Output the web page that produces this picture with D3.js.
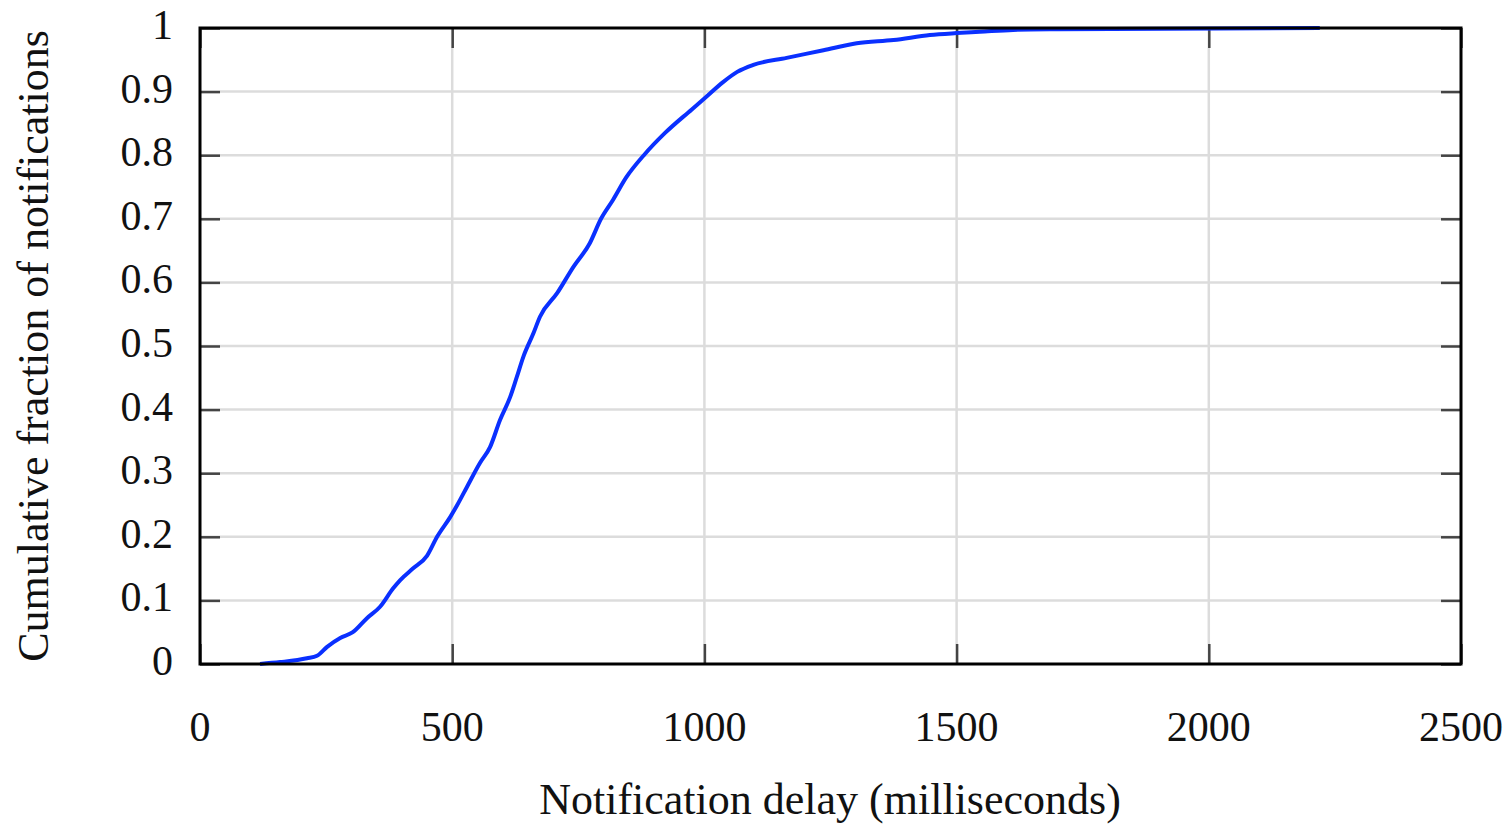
<!DOCTYPE html>
<html>
<head>
<meta charset="utf-8">
<script src="https://cdn.jsdelivr.net/npm/d3@7"></script>
<style>
  body { margin: 0; background: #fff; }
  text { font-family: "Liberation Serif", "DejaVu Serif", serif; fill: #111; }
</style>
</head>
<body>
<div id="chart"></div>
<script>
// CDF of notification delay
const delays = [119, 159, 212, 232, 252, 278, 303, 331, 357, 383, 397, 422, 450, 470, 496, 510, 529, 555, 575, 595, 615, 628, 641, 661, 674, 708, 740, 773, 795, 819, 845, 880, 922, 975, 1001, 1037, 1065, 1097, 1163, 1236, 1302, 1375, 1447, 1500, 1546, 1612, 1700, 2220];
const fractions = [0, 0.003, 0.009, 0.013, 0.027, 0.041, 0.05, 0.072, 0.09, 0.119, 0.132, 0.15, 0.17, 0.2, 0.231, 0.25, 0.278, 0.316, 0.341, 0.384, 0.42, 0.451, 0.483, 0.52, 0.546, 0.583, 0.624, 0.662, 0.7, 0.73, 0.765, 0.8, 0.835, 0.872, 0.89, 0.915, 0.931, 0.942, 0.953, 0.965, 0.976, 0.981, 0.989, 0.992, 0.994, 0.997, 0.998, 1.0];

const xTicks = [0, 500, 1000, 1500, 2000, 2500];
const yTicks = [0, 0.1, 0.2, 0.3, 0.4, 0.5, 0.6, 0.7, 0.8, 0.9, 1];

const width = 1511;
const height = 827;
const margin = { top: 28, right: 50, bottom: 163, left: 200 };

const points = delays.map((d, i) => ({ delay: d, frac: fractions[i] }));

const svg = d3.select('#chart')
  .append('svg')
  .attr('width', width)
  .attr('height', height);

const x = d3.scaleLinear()
  .domain([0, 2500])
  .range([margin.left, width - margin.right]);

const y = d3.scaleLinear()
  .domain([0, 1])
  .range([height - margin.bottom, margin.top]);

const plotW = x(2500) - x(0);
const plotH = y(0) - y(1);

// gridlines
svg.append('g')
  .selectAll('line')
  .data(yTicks.slice(1, -1))
  .join('line')
  .attr('x1', x(0)).attr('x2', x(2500))
  .attr('y1', d => y(d)).attr('y2', d => y(d))
  .attr('stroke', '#dcdcdc')
  .attr('stroke-width', 2.5);

svg.append('g')
  .selectAll('line')
  .data(xTicks.slice(1, -1))
  .join('line')
  .attr('x1', d => x(d)).attr('x2', d => x(d))
  .attr('y1', y(0)).attr('y2', y(1))
  .attr('stroke', '#dcdcdc')
  .attr('stroke-width', 2.5);

// inward ticks on all four sides
const tickLen = 20;
function styleAxis(g) {
  g.select('.domain').remove();
  g.selectAll('.tick line').attr('stroke', '#444').attr('stroke-width', 2.5);
  g.selectAll('.tick text').remove();
}

svg.append('g')
  .attr('transform', `translate(0, ${y(0)})`)
  .call(d3.axisBottom(x).tickValues(xTicks).tickSize(-tickLen))
  .call(styleAxis);
svg.append('g')
  .attr('transform', `translate(0, ${y(1)})`)
  .call(d3.axisTop(x).tickValues(xTicks).tickSize(-tickLen))
  .call(styleAxis);
svg.append('g')
  .attr('transform', `translate(${x(0)}, 0)`)
  .call(d3.axisLeft(y).tickValues(yTicks).tickSize(-tickLen))
  .call(styleAxis);
svg.append('g')
  .attr('transform', `translate(${x(2500)}, 0)`)
  .call(d3.axisRight(y).tickValues(yTicks).tickSize(-tickLen))
  .call(styleAxis);

// the curve
const line = d3.line()
  .x(d => x(d.delay))
  .y(d => y(d.frac))
  .curve(d3.curveMonotoneX);

svg.append('path')
  .datum(points)
  .attr('d', line)
  .attr('fill', 'none')
  .attr('stroke', '#0a30ff')
  .attr('stroke-width', 4)
  .attr('stroke-linejoin', 'round');

// frame
svg.append('rect')
  .attr('x', x(0))
  .attr('y', y(1))
  .attr('width', plotW)
  .attr('height', plotH)
  .attr('fill', 'none')
  .attr('stroke', '#000')
  .attr('stroke-width', 3);

// tick labels
svg.append('g')
  .selectAll('text')
  .data(xTicks)
  .join('text')
  .attr('x', d => x(d))
  .attr('y', y(0) + 77)
  .attr('text-anchor', 'middle')
  .attr('font-size', 42)
  .text(d => d);

svg.append('g')
  .selectAll('text')
  .data(yTicks)
  .join('text')
  .attr('x', x(0) - 27)
  .attr('y', d => y(d) + 11)
  .attr('text-anchor', 'end')
  .attr('font-size', 42)
  .text(d => d);

// axis titles
svg.append('text')
  .attr('x', 830)
  .attr('y', 814)
  .attr('text-anchor', 'middle')
  .attr('font-size', 44)
  .text('Notification delay (milliseconds)');

svg.append('text')
  .attr('transform', `translate(48, ${(y(0) + y(1)) / 2}) rotate(-90)`)
  .attr('text-anchor', 'middle')
  .attr('font-size', 44)
  .text('Cumulative fraction of notifications');
</script>
</body>
</html>
